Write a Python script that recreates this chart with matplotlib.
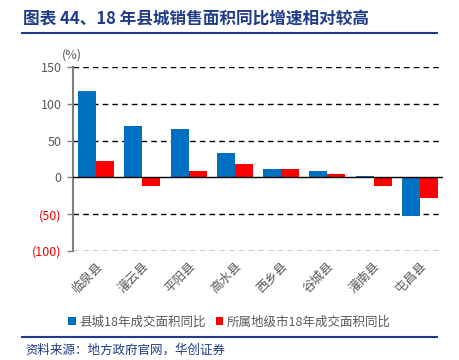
import matplotlib.pyplot as plt
import numpy as np

plt.rcParams['font.family'] = ['Noto Sans CJK SC', 'DejaVu Sans']

counties = ['临泉县', '灌云县', '平阳县', '高水县', '西乡县', '谷城县', '灌南县', '屯昌县']
county_growth = [117, 70, 66, 33, 11, 8, 2, -53]
city_growth = [22, -12, 8, 18, 12, 4, -12, -28]
yticks = [150, 100, 50, 0, -50, -100]
ytick_labels = ['150', '100', '50', '0', '(50)', '(100)']

blue = '#0070C0'
red = '#FF0000'
navy = '#1F3C88'

fig = plt.figure(figsize=(4.59, 3.6), dpi=100)
ax = fig.add_axes([0.159, 0.303, 0.806, 0.511])

x = np.arange(len(counties))
w = 0.39
ax.bar(x - w / 2, county_growth, w, color=blue, label='县城18年成交面积同比', zorder=3)
ax.bar(x + w / 2, city_growth, w, color=red, label='所属地级市18年成交面积同比', zorder=3)

ax.set_xlim(-0.5, len(counties) - 0.5)
ax.set_ylim(-100, 150)
for v in [150, 100, 50, -50, -100]:
    ax.axhline(v, color='black', linestyle=(0, (4, 3)), linewidth=1, zorder=1)
ax.axhline(0, color='black', linewidth=1, zorder=4)

ax.set_yticks(yticks)
ax.set_yticklabels(ytick_labels)
for lbl, v in zip(ax.get_yticklabels(), yticks):
    lbl.set_color(red if v < 0 else '#595959')
ax.tick_params(axis='y', labelsize=9, length=4, width=1, color='#7f7f7f', pad=4)

ax.set_xticks(x)
ax.set_xticklabels(counties, rotation=45, ha='right', rotation_mode='anchor',
                   fontsize=9, color='#595959')
ax.tick_params(axis='x', length=0, pad=6)

for s in ['top', 'right', 'bottom']:
    ax.spines[s].set_visible(False)
ax.spines['left'].set_color('#7f7f7f')
ax.spines['left'].set_linewidth(1.5)

fig.text(0.135, 0.83, '(%)', fontsize=9, color='#595959', ha='left', va='bottom')

leg = fig.legend(loc='center', bbox_to_anchor=(0.5, 0.105), ncol=2, frameon=False,
                 fontsize=9, handlelength=0.6, handleheight=0.6, handletextpad=0.3,
                 columnspacing=0.8)
for t in leg.get_texts():
    t.set_color('#595959')

# title and footer
fig.text(0.05, 0.945, '图表 44、18 年县城销售面积同比增速相对较高', fontsize=12,
         fontweight='bold', color=navy, ha='left', va='center')
fig.add_artist(plt.Line2D([0.048, 0.952], [0.908, 0.908], color=navy, linewidth=1.5))
fig.add_artist(plt.Line2D([0.048, 0.952], [0.064, 0.064], color=navy, linewidth=1.5))
fig.text(0.055, 0.027, '资料来源：地方政府官网，华创证券', fontsize=9, style='italic',
         color=navy, ha='left', va='center')

fig.savefig('out.png', dpi=100)
